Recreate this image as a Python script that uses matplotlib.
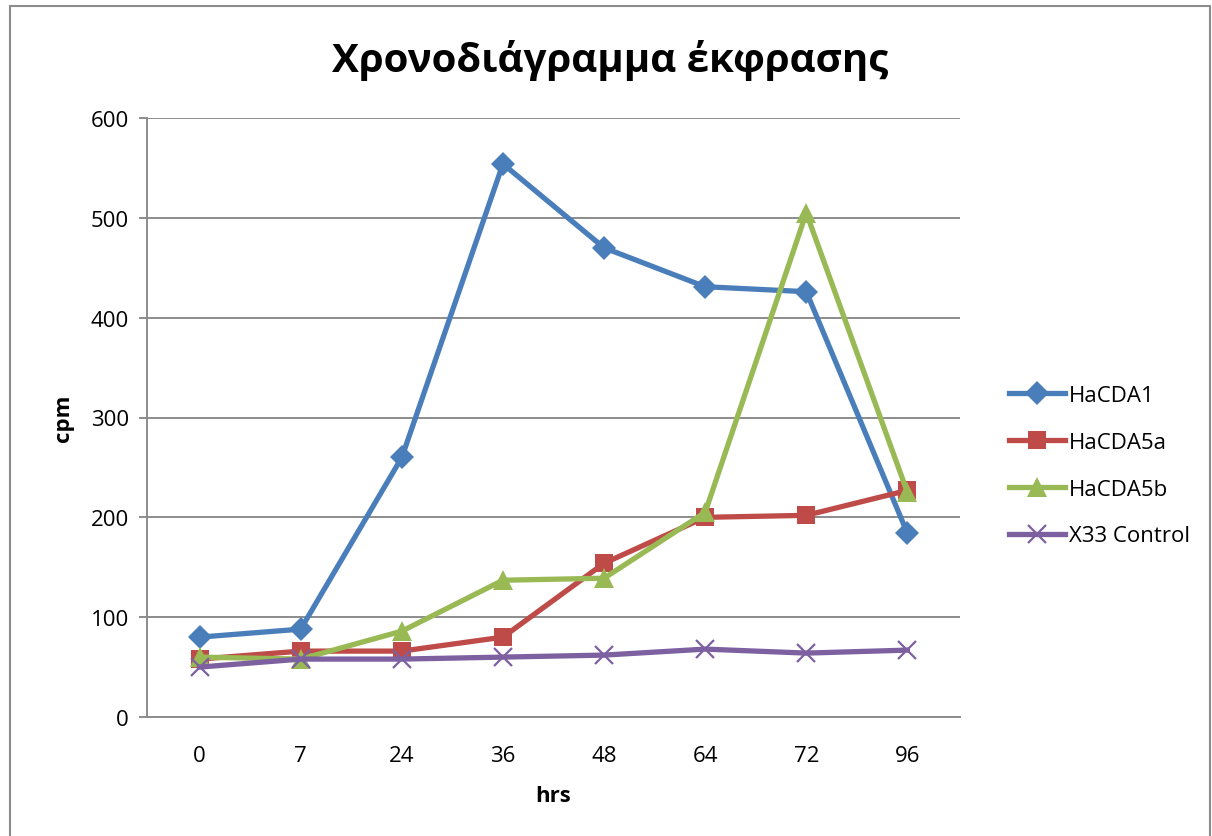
import matplotlib
matplotlib.use("Agg")
import matplotlib.pyplot as plt
from matplotlib.patches import Rectangle

plt.rcParams['font.family'] = ['Open Sans', 'DejaVu Sans']

hours = ["0", "7", "24", "36", "48", "64", "72", "96"]
hacda1 = [80, 88, 260, 554, 470, 431, 426, 184]
hacda5a = [58, 66, 66, 80, 154, 200, 202, 227]
hacda5b = [60, 58, 86, 137, 139, 205, 505, 225]
x33_control = [50, 58, 58, 60, 62, 68, 64, 67]

series = [
    ("HaCDA1", hacda1, "#4A7EBB", "D", 12),
    ("HaCDA5a", hacda5a, "#BE4B48", "s", 13),
    ("HaCDA5b", hacda5b, "#98B954", "^", 15),
    ("X33 Control", x33_control, "#7D60A0", "x", 13),
]

fig = plt.figure(figsize=(12.12, 8.37), dpi=100)
ax = fig.add_axes([147 / 1212, 1 - 718 / 837, (960 - 147) / 1212, 599 / 837])

xs = list(range(len(hours)))
for name, vals, color, marker, ms in series:
    kw = dict(markeredgewidth=1.6) if marker == "x" else dict(markeredgewidth=0)
    ax.plot(xs, vals, color=color, linewidth=3.8, marker=marker,
            markersize=ms, markerfacecolor=color, markeredgecolor=color,
            label=name, solid_joinstyle="round", **kw)

ax.set_xlim(-0.52, len(hours) - 0.48)
ax.set_ylim(0, 600)
ax.set_yticks(range(0, 601, 100))
ax.set_xticks(xs)
ax.set_xticklabels(hours)
ax.yaxis.grid(True, color="#8C8C8C", linewidth=1.4)
ax.set_axisbelow(True)
for side in ("top", "right"):
    ax.spines[side].set_visible(False)
for side in ("left", "bottom"):
    ax.spines[side].set_color("#8C8C8C")
    ax.spines[side].set_linewidth(1.4)
ax.tick_params(axis="y", length=6, width=1.4, color="#8C8C8C",
               labelsize=16, pad=7)
ax.tick_params(axis="x", length=0, labelsize=16, pad=20)

ax.set_xlabel("hrs", fontsize=16, fontweight="bold", labelpad=14)
ax.set_ylabel("cpm", fontsize=16, fontweight="bold", labelpad=12)

fig.suptitle("Χρονοδιάγραμμα έκφρασης", fontsize=29, fontweight="bold",
             x=0.503, y=0.952)

leg = fig.legend(loc="upper left", bbox_to_anchor=(989 / 1212, 1 - 366 / 837),
                 frameon=False, fontsize=16, handlelength=2.5,
                 labelspacing=1.16, handletextpad=0.2)

fig.patches.append(Rectangle((10 / 1212, -0.01), 1200 / 1212, 1 - 7 / 837 + 0.01,
                             transform=fig.transFigure, fill=False,
                             edgecolor="#8C8C8C", linewidth=1.5))

fig.savefig("out.png", dpi=100, facecolor="white")
